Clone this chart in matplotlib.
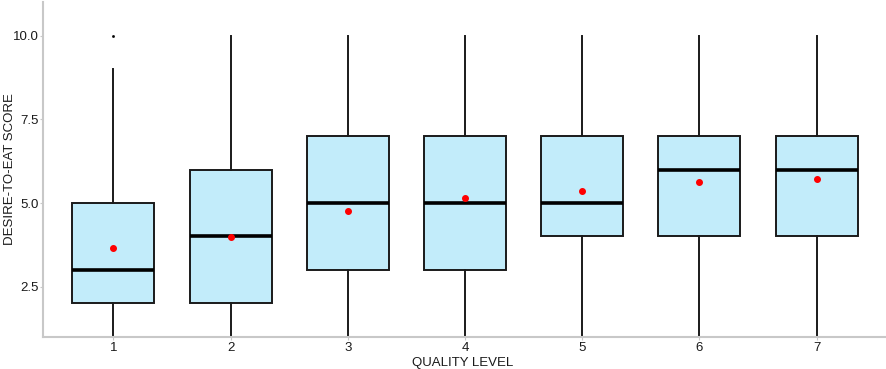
import matplotlib
matplotlib.use("Agg")
import matplotlib.pyplot as plt

plt.rcParams['font.family'] = ['Liberation Sans', 'DejaVu Sans']

levels = [1, 2, 3, 4, 5, 6, 7]
q1 = [2, 2, 3, 3, 4, 4, 4]
med = [3, 4, 5, 5, 5, 6, 6]
q3 = [5, 6, 7, 7, 7, 7, 7]
whislo = [1, 1, 1, 1, 1, 1, 1]
whishi = [9, 10, 10, 10, 10, 10, 10]
means = [3.66, 3.97, 4.77, 5.16, 5.35, 5.63, 5.73]
fliers = [[10], [], [], [], [], [], []]

stats = []
for i in range(len(levels)):
    stats.append(dict(med=med[i], q1=q1[i], q3=q3[i], whislo=whislo[i],
                      whishi=whishi[i], mean=means[i], fliers=fliers[i],
                      label=str(levels[i])))

fig = plt.figure(figsize=(8.86, 3.69), dpi=100)
ax = fig.add_axes([0.0485, 0.087, 0.95, 0.907])

ax.bxp(stats, positions=levels, widths=0.7, patch_artist=True,
       showmeans=True, showcaps=False,
       boxprops=dict(facecolor='#c2ecfa', edgecolor='#1a1a1a', linewidth=1.4),
       medianprops=dict(color='black', linewidth=2.6),
       whiskerprops=dict(color='#1a1a1a', linewidth=1.4),
       meanprops=dict(marker='o', markerfacecolor='red', markeredgecolor='red', markersize=4),
       flierprops=dict(marker='s', markerfacecolor='black', markeredgecolor='black', markersize=0.9))

ax.set_xlim(0.4, 7.58)
ax.set_ylim(1.0, 11.0)
ax.set_yticks([2.5, 5.0, 7.5, 10.0])
ax.set_yticklabels(['2.5', '5.0', '7.5', '10.0'])
ax.set_xticks(levels)
ax.set_xticklabels([str(l) for l in levels])

for s in ['top', 'right']:
    ax.spines[s].set_visible(False)
for s in ['left', 'bottom']:
    ax.spines[s].set_color('#c8c8c8')
    ax.spines[s].set_linewidth(1.5)

ax.tick_params(axis='both', colors='#c8c8c8', labelcolor='#1a1a1a', labelsize=9.5, length=2, pad=1.0)
ax.tick_params(axis='x', pad=2)

fig.text(463 / 886, 1 - 363 / 369, 'QUALITY LEVEL', fontsize=9.5, color='#1a1a1a',
         ha='center', va='center')
fig.text(10 / 886, 1 - 169 / 369, 'DESIRE-TO-EAT SCORE', fontsize=9.5, color='#1a1a1a',
         ha='center', va='center', rotation=90)

fig.savefig('out.png', dpi=100)
